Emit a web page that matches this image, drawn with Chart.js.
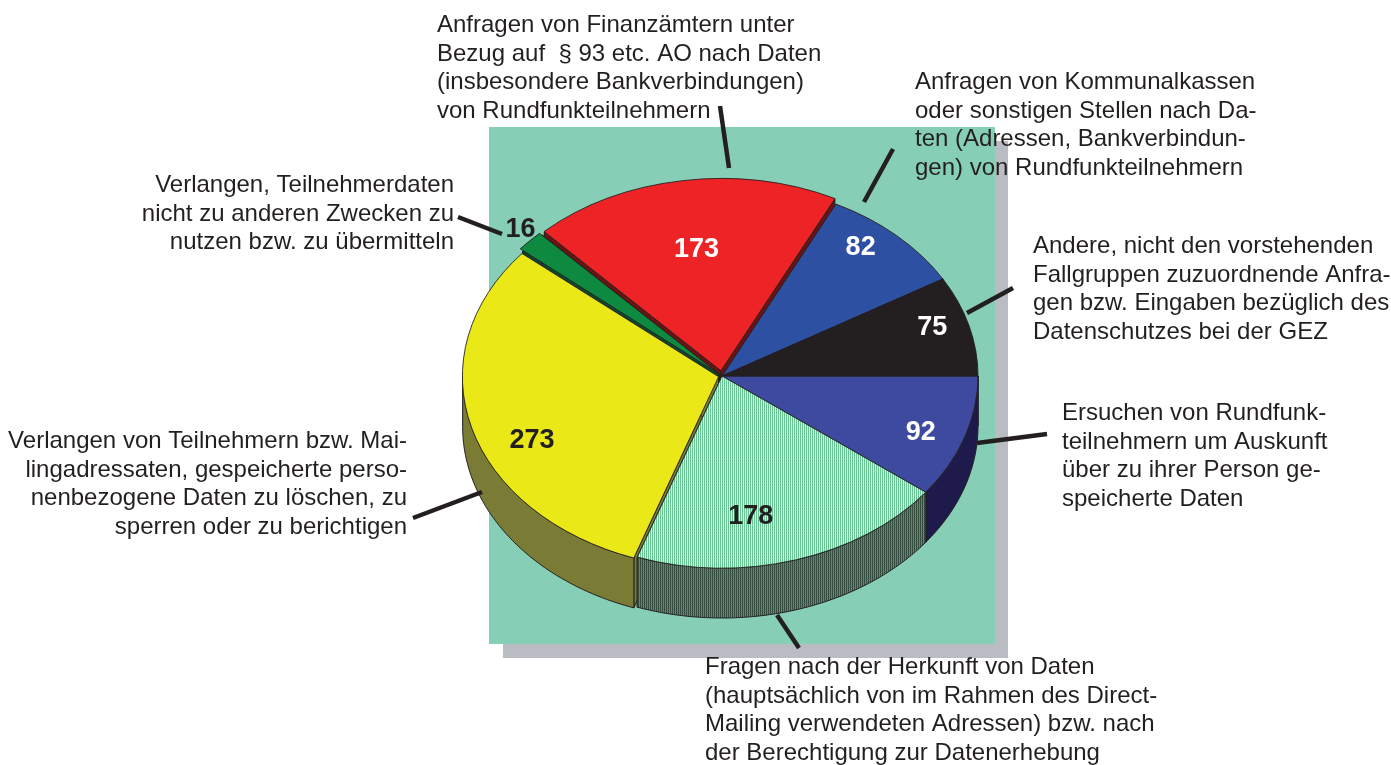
<!DOCTYPE html>
<html>
<head>
<meta charset="utf-8">
<script src="https://cdn.jsdelivr.net/npm/chart.js@4.4.1/dist/chart.umd.min.js"></script>
<style>
html,body{margin:0;padding:0;background:#ffffff;}
#wrap{width:1391px;height:765px;position:relative;}
canvas{display:block;}
</style>
</head>
<body>
<div id="wrap"><canvas id="c" width="1391" height="765"></canvas></div>
<script>
// ---------------- DATA ----------------
const categoryLines = [
  ["Ersuchen von Rundfunk-", "teilnehmern um Auskunft", "über zu ihrer Person ge-", "speicherte Daten"],
  ["Fragen nach der Herkunft von Daten", "(hauptsächlich von im Rahmen des Direct-", "Mailing verwendeten Adressen) bzw. nach", "der Berechtigung zur Datenerhebung"],
  ["Verlangen von Teilnehmern bzw. Mai-", "lingadressaten, gespeicherte perso-", "nenbezogene Daten zu löschen, zu", "sperren oder zu berichtigen"],
  ["Verlangen, Teilnehmerdaten", "nicht zu anderen Zwecken zu", "nutzen bzw. zu übermitteln"],
  ["Anfragen von Finanzämtern unter", "Bezug auf  § 93 etc. AO nach Daten", "(insbesondere Bankverbindungen)", "von Rundfunkteilnehmern"],
  ["Anfragen von Kommunalkassen", "oder sonstigen Stellen nach Da-", "ten (Adressen, Bankverbindun-", "gen) von Rundfunkteilnehmern"],
  ["Andere, nicht den vorstehenden", "Fallgruppen zuzuordnende Anfra-", "gen bzw. Eingaben bezüglich des", "Datenschutzes bei der GEZ"]
];
const categories = categoryLines.map(l => l.join(" "));
const values = [92, 178, 273, 16, 173, 82, 75];

// ---------------- STYLE / LAYOUT ----------------
function makePattern(a, b, c, d) {
  const p = document.createElement('canvas'); p.width = 2; p.height = 2;
  const g = p.getContext('2d');
  g.fillStyle = a; g.fillRect(0, 0, 1, 1);
  g.fillStyle = b; g.fillRect(1, 0, 1, 1);
  g.fillStyle = c; g.fillRect(0, 1, 1, 1);
  g.fillStyle = d; g.fillRect(1, 1, 1, 1);
  return g.createPattern(p, 'repeat');
}
const topColors = ['#3E4A9F', makePattern('#5DBE8C', '#E4F5EB', '#7ACB9F', '#C9EBD8'), '#EBE817', '#0E8A40', '#EE2326', '#2D50A2', '#231F20'];
const sideColors = ['#1F1A4C', makePattern('#2E463A', '#6E8A7A', '#3C5547', '#5F7C6B'), '#7A7C36', '#0B4A25', '#6E1212', '#1B2F66', '#111111'];
const numberColors = ['#ffffff', '#231F20', '#231F20', '#231F20', '#ffffff', '#ffffff', '#ffffff'];
const sliceOffsets = [0, 0, 14, 16, 28, 0, 0];
const labelRadius = [0.83, 0.74, 0.80, 1.08, 0.64, 0.86, 0.86];
const labelAngleShift = [2, 8, -9, 1, 0, -4, -2];
const ELLIPSE = 0.75, DEPTH = 50;
const TEXT_FONT = '24px "Liberation Sans", Arial, sans-serif';
const LINE_H = 28.7;
const textLayout = [
  {x: 1062, y: 420, align: 'left'},
  {x: 705, y: 674, align: 'left'},
  {x: 407, y: 448, align: 'right'},
  {x: 454, y: 192, align: 'right'},
  {x: 437, y: 32, align: 'left'},
  {x: 915, y: 89, align: 'left'},
  {x: 1033, y: 253, align: 'left'}
];
const leaders = [
  [1047, 434, 977, 443],
  [799, 648, 777, 615],
  [413, 518, 482, 492],
  [458, 217, 502, 234],
  [720, 106, 729, 168],
  [893, 149, 864, 202],
  [1013, 288, 967, 313]
];

function offsetOf(el) {
  const off = (el.options.offset || 0) / 4;
  const mid = (el.startAngle + el.endAngle) / 2;
  return {ox: Math.cos(mid) * off, oy: Math.sin(mid) * off};
}
function pt(el, o, r, t, d) {
  return [el.x + o.ox + r * Math.cos(t), el.y + ELLIPSE * (o.oy + r * Math.sin(t)) + d];
}

const pie3d = {
  id: 'pie3d',
  beforeDraw(chart) {
    const ctx = chart.ctx;
    ctx.save();
    ctx.fillStyle = '#ffffff'; ctx.fillRect(0, 0, chart.width, chart.height);
    ctx.fillStyle = '#B9BCC3'; ctx.fillRect(503, 141, 505, 517);
    ctx.fillStyle = '#86CFB6'; ctx.fillRect(489, 127, 506, 517);
    ctx.restore();
  },
  beforeDatasetsDraw(chart) {
    const ctx = chart.ctx;
    const meta = chart.getDatasetMeta(0);
    const els = meta.data;
    const order = els.map((e, i) => i).sort((a, b) => {
      const ma = (els[a].startAngle + els[a].endAngle) / 2, mb = (els[b].startAngle + els[b].endAngle) / 2;
      return Math.sin(ma) - Math.sin(mb);
    });
    ctx.save();
    ctx.lineWidth = 1; ctx.strokeStyle = '#231F20'; ctx.lineJoin = 'round';
    for (const i of order) {
      const el = els[i]; const o = offsetOf(el); const R = el.outerRadius;
      ctx.fillStyle = sideColors[i];
      // radial cut faces
      for (const t of [el.startAngle, el.endAngle]) {
        const c0 = pt(el, o, 0, t, 0), e0 = pt(el, o, R, t, 0), e1 = pt(el, o, R, t, DEPTH), c1 = pt(el, o, 0, t, DEPTH);
        ctx.beginPath(); ctx.moveTo(...c0); ctx.lineTo(...e0); ctx.lineTo(...e1); ctx.lineTo(...c1); ctx.closePath();
        ctx.fill(); ctx.stroke();
      }
      // outer front surface
      const ranges = [[0, Math.PI], [2 * Math.PI, 3 * Math.PI]];
      for (const [fa, fb] of ranges) {
        const a = Math.max(el.startAngle, fa), b = Math.min(el.endAngle, fb);
        if (b <= a) continue;
        const n = Math.max(8, Math.ceil((b - a) * 80));
        ctx.beginPath();
        for (let k = 0; k <= n; k++) { const p = pt(el, o, R, a + (b - a) * k / n, 0); k ? ctx.lineTo(...p) : ctx.moveTo(...p); }
        for (let k = n; k >= 0; k--) { const p = pt(el, o, R, a + (b - a) * k / n, DEPTH); ctx.lineTo(...p); }
        ctx.closePath(); ctx.fill(); ctx.stroke();
      }
    }
    ctx.restore();
    // squash the top faces into an ellipse
    ctx.save();
    const cx = els[0].x, cy = els[0].y;
    ctx.translate(cx, cy); ctx.scale(1, ELLIPSE); ctx.translate(-cx, -cy);
  },
  afterDatasetsDraw(chart) {
    chart.ctx.restore();
  },
  afterDraw(chart) {
    const ctx = chart.ctx;
    const meta = chart.getDatasetMeta(0);
    ctx.save();
    // leader lines
    ctx.strokeStyle = '#231F20'; ctx.lineWidth = 4.5; ctx.lineCap = 'butt';
    leaders.forEach(l => { ctx.beginPath(); ctx.moveTo(l[0], l[1]); ctx.lineTo(l[2], l[3]); ctx.stroke(); });
    // category texts
    ctx.font = TEXT_FONT; ctx.fillStyle = '#231F20'; ctx.textBaseline = 'alphabetic';
    categoryLines.forEach((lines, i) => {
      const L = textLayout[i]; ctx.textAlign = L.align;
      lines.forEach((s, k) => ctx.fillText(s, L.x, L.y + k * LINE_H));
    });
    // value labels
    ctx.font = 'bold 27px "Liberation Sans", Arial, sans-serif';
    ctx.textAlign = 'center'; ctx.textBaseline = 'middle';
    meta.data.forEach((el, i) => {
      const o = offsetOf(el);
      const mid = (el.startAngle + el.endAngle) / 2 + labelAngleShift[i] * Math.PI / 180;
      const p = pt(el, o, el.outerRadius * labelRadius[i], mid, 0);
      ctx.fillStyle = numberColors[i];
      ctx.fillText(String(values[i]), p[0], p[1]);
    });
    ctx.restore();
  }
};

new Chart(document.getElementById('c'), {
  type: 'pie',
  data: {
    labels: categories,
    datasets: [{
      data: values,
      backgroundColor: topColors,
      borderColor: '#231F20',
      borderWidth: 1,
      offset: sliceOffsets,
      hoverOffset: 0
    }]
  },
  options: {
    responsive: false,
    animation: false,
    events: [],
    rotation: 90,
    radius: 256,
    layout: {padding: {left: 253, right: 200, top: 100, bottom: 113}},
    plugins: {legend: {display: false}, tooltip: {enabled: false}}
  },
  plugins: [pie3d]
});
</script>
</body>
</html>
